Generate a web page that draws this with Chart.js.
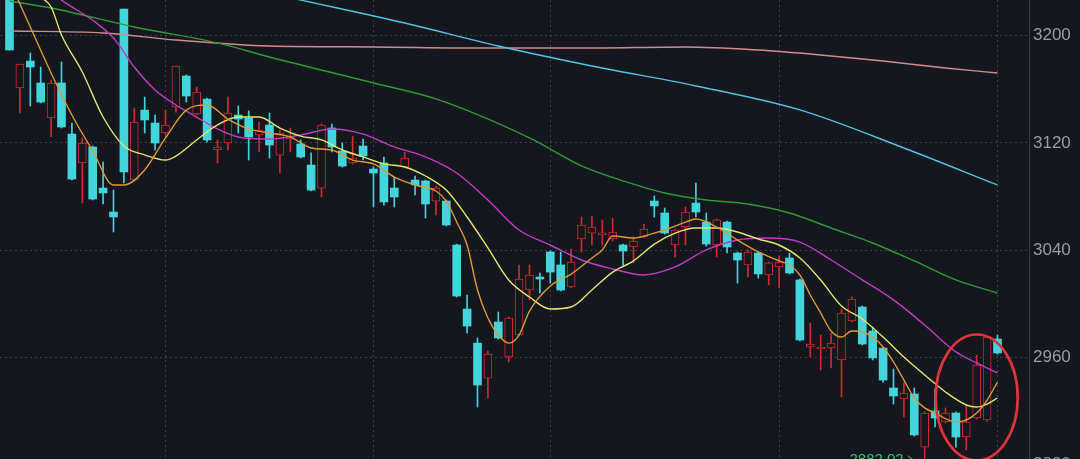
<!DOCTYPE html>
<html>
<head>
<meta charset="utf-8">
<script src="https://cdn.jsdelivr.net/npm/chart.js@4/dist/chart.umd.min.js"></script>
<style>
  html, body { margin: 0; padding: 0; background: #14171d; overflow: hidden; width: 1080px; height: 459px; }
  #wrap { width: 1080px; height: 459px; overflow: hidden; }
  canvas { display: block; }
</style>
</head>
<body>
<div id="wrap"><canvas id="c" width="1080" height="470"></canvas></div>
<script>
// ---- data ----
const opens  = [3230.4,3161.0,3181.1,3164.7,3138.6,3164.7,3126.6,3105.0,3116.9,3086.3,3068.4,3219.9,3092.3,3144.5,3134.8,3127.4,3146.8,3169.9,3141.6,3152.7,3114.7,3119.9,3140.8,3138.6,3125.9,3133.3,3110.9,3122.9,3119.2,3103.5,3086.3,3131.1,3113.9,3105.0,3117.7,3100.5,3105.0,3086.3,3102.0,3092.3,3091.6,3076.6,3076.6,3043.8,2996.0,2970.6,2944.5,2986.3,2960.2,2976.6,3010.2,3019.9,3038.6,3028.9,3012.5,3048.3,3052.7,3051.3,3048.3,3043.8,3042.3,3049.8,3076.6,3067.7,3043.8,3057.2,3075.1,3060.9,3043.8,3060.9,3037.8,3028.9,3037.8,3021.4,3027.4,3034.1,3017.7,2967.7,2966.2,2966.9,2958.0,2987.1,2997.5,2979.6,2966.9,2937.1,2928.9,2932.6,2893.0,2919.9,2911.7,2918.4,2900.5,2914.7,2913.2,2973.6];
const highs  = [3232.0,3178.9,3187.1,3176.6,3166.9,3180.4,3134.8,3123.6,3117.7,3105.7,3084.8,3219.9,3146.0,3154.2,3140.8,3144.5,3177.4,3170.7,3161.7,3153.5,3122.2,3154.2,3147.5,3143.8,3135.6,3142.3,3129.6,3131.1,3122.2,3112.5,3134.1,3134.1,3119.9,3125.1,3122.9,3102.0,3109.5,3094.5,3113.2,3095.3,3092.3,3087.8,3077.4,3044.5,3006.5,2974.4,2964.7,2993.8,2990.1,3028.9,3028.9,3022.9,3039.3,3038.6,3040.8,3064.7,3065.4,3062.5,3063.9,3044.5,3049.8,3059.5,3080.4,3071.4,3055.7,3072.2,3090.1,3067.7,3063.2,3061.7,3038.6,3040.1,3038.6,3031.1,3035.6,3037.8,3018.4,2985.6,2976.6,2978.1,2996.0,3005.0,2998.3,2982.6,2967.7,2951.2,2940.8,2937.1,2919.2,2936.3,2922.2,2919.2,2924.4,2961.7,2975.9,2976.6];
const lows   = [3189.3,3142.3,3147.5,3149.8,3124.4,3131.1,3092.3,3075.1,3077.4,3074.4,3053.5,3090.1,3091.6,3127.4,3114.7,3125.9,3143.0,3150.5,3140.8,3120.7,3105.0,3114.7,3127.4,3107.2,3113.2,3108.7,3097.5,3113.2,3108.7,3084.1,3079.6,3113.2,3102.0,3104.2,3107.2,3072.2,3073.6,3072.2,3101.3,3081.1,3063.9,3066.2,3058.0,3005.0,2978.1,2922.9,2929.6,2973.6,2956.5,2975.9,3002.8,3008.0,3015.4,3009.5,3011.7,3038.6,3043.8,3043.8,3046.8,3027.4,3030.4,3049.0,3064.7,3052.0,3034.8,3043.8,3064.7,3043.0,3034.8,3037.8,3015.4,3019.9,3019.2,3013.9,3011.7,3022.2,2972.2,2960.2,2950.5,2952.0,2930.4,2986.3,2969.2,2958.0,2941.5,2925.1,2915.4,2901.2,2882.02,2908.0,2911.0,2893.0,2890.8,2913.9,2912.4,2962.4];
const closes = [3189.3,3178.9,3176.6,3150.5,3164.7,3131.9,3093.0,3119.9,3078.1,3082.6,3064.7,3098.3,3135.6,3137.1,3119.9,3133.3,3177.4,3155.0,3158.0,3122.2,3116.9,3142.3,3137.8,3124.4,3129.6,3118.4,3127.4,3125.1,3109.5,3084.8,3133.3,3116.9,3102.7,3108.7,3110.2,3097.5,3075.9,3079.6,3108.7,3088.6,3074.4,3086.3,3058.7,3005.7,2983.3,2939.3,2962.4,2974.4,2989.3,3018.4,3021.4,3018.4,3023.6,3010.2,3031.1,3058.7,3057.2,3052.7,3053.5,3039.3,3046.8,3055.7,3072.9,3052.7,3055.0,3068.4,3068.4,3044.5,3062.5,3042.3,3032.6,3038.6,3022.2,3030.4,3031.1,3022.9,2972.9,2969.9,2967.7,2970.6,2993.0,3003.5,2969.9,2959.5,2943.0,2931.1,2933.3,2902.0,2918.4,2914.7,2918.4,2900.5,2911.7,2954.2,2975.1,2963.2];
const dayIndex = opens.map((_, i) => i);

const ma5Idx  = [0,2,4,6,8,10,11,13,15,17,19,21,23,25,27,29,31,33,35,37,39,41,42,43,44,45,46,47,48,49,50,52,54,56,57,58,60,62,63,65,66,68,70,72,74,75,76,77,78,79,80,81,82,83,84,85,86,87,88,89,91,92,93,94,95];
const ma5Val  = [3241,3206.5,3172.2,3140.8,3114,3088.6,3088.6,3099.8,3123.7,3144.5,3148.3,3137.8,3130.4,3127.4,3124.4,3116.2,3114.7,3107.2,3104.3,3094.5,3088.6,3084.1,3076.6,3061,3043.8,3010.2,2989.3,2976.6,2970.6,2976.6,2994.5,3013.2,3022.1,3034.1,3040.1,3050.5,3049,3052.7,3055,3060.9,3063.2,3057.2,3047.5,3038.6,3031.9,3028.9,3021.4,3006.5,2993.1,2979.6,2975.1,2979.6,2978.9,2975.1,2967.7,2956.5,2943.0,2929.6,2922.2,2918.4,2911.7,2913.2,2918.4,2928.1,2941.5];
const ma10Idx = [3,4,5,7,9,11,13,15,16,18,20,22,24,26,28,30,32,34,36,38,40,42,44,46,48,50,52,54,56,58,60,62,64,66,68,70,72,74,76,78,80,82,84,86,88,90,92,93,94,95];
const ma10Val = [3228.9,3221.4,3200.5,3172.9,3139.3,3117.7,3111.0,3107.2,3110.2,3122.2,3133.4,3139.3,3139.3,3131.1,3125.1,3122.2,3114.7,3109.5,3104.3,3102.0,3095.3,3084.8,3064.7,3041.6,3017.7,3005.0,2996.0,2997.5,3010.2,3023.6,3031.9,3044.5,3052.7,3056.5,3056.5,3053.5,3048.3,3043.8,3034.1,3017.7,2998.3,2988.6,2975.1,2960.2,2946.8,2934.1,2924.4,2922.9,2925.1,2929.6];
const ma20Idx = [0,5,10,12,14,16,18,20,22,25,28,31,34,37,40,43,46,49,52,55,58,61,64,67,70,73,76,79,82,85,88,91,93,95];
const ma20Val = [3252.8,3226.6,3198.3,3176.6,3159.5,3148.3,3139.3,3130.4,3124.4,3122.9,3125.9,3130.4,3126.6,3117.0,3109.5,3097.5,3077.4,3055.0,3043.8,3032.6,3025.9,3021.4,3027.4,3040.1,3047.5,3049.0,3046.0,3032.6,3017.8,3002.8,2984.1,2964.0,2955.8,2948.3];
const ma60Idx = [0,4,12,20,25,35,41,50,55,59,63,67,71,75,79,83,87,91,95];
const ma60Val = [3225.9,3220.7,3206.5,3194.6,3184.1,3164.7,3152.8,3123.7,3102.8,3091.6,3082.6,3077.4,3074.4,3067.7,3056.5,3045.3,3031.9,3017.8,3008.0];
const ma120Idx = [20,28,38,47,56,66,76,86,95];
const ma120Val = [3240.0,3226.6,3209.5,3192.3,3177.4,3162.5,3144.6,3116.2,3088.6];
const ma250Idx = [0,9,16,25,35,45,55,65,72,78,84,90,95];
const ma250Val = [3203.5,3202.0,3196.8,3192.3,3191.6,3190.8,3190.8,3191.6,3189.3,3185.6,3181.1,3175.9,3172.2];

const priceTicks = [2880, 2960, 3040, 3120, 3200];
const monthStartIdx = [15, 35, 52, 74, 95];
const circleCenter = [93, 2930];

// ---- styles ----
const BG = '#14171d';
const CYAN = '#44d4dc';
const RED = '#cf2b2f';
const GRID = 'rgba(95,100,112,0.55)';

const isUp = dayIndex.map(i => closes[i] >= opens[i]);
const candleColor = dayIndex.map(i => isUp[i] ? RED : CYAN);

function lineDs(idx, val, color, order) {
  return {
    type: 'line',
    data: idx.map((d, k) => ({ x: d, y: val[k] })),
    borderColor: color,
    borderWidth: 1.4,
    pointRadius: 0,
    tension: 0.4,
    cubicInterpolationMode: 'monotone',
    fill: false,
    order: order
  };
}

const annot = {
  id: 'annot',
  afterDraw(chart) {
    const { ctx, scales: { x, y } } = chart;
    let li = 0;
    lows.forEach((v, i) => { if (v < lows[li]) li = i; });
    const px = x.getPixelForValue(li), py = y.getPixelForValue(lows[li]);
    ctx.save();
    ctx.font = '15px "Liberation Sans", Arial, sans-serif';
    ctx.fillStyle = '#33c36c';
    ctx.textAlign = 'right';
    ctx.textBaseline = 'top';
    ctx.fillText(lows[li].toFixed(2), px - 21, py - 9);
    ctx.strokeStyle = '#9aa0a8';
    ctx.lineWidth = 1;
    ctx.beginPath();
    ctx.moveTo(px - 17, py - 6);
    ctx.lineTo(px - 10, py - 1);
    ctx.stroke();
    const cx = x.getPixelForValue(circleCenter[0]);
    const cy = y.getPixelForValue(circleCenter[1]);
    ctx.strokeStyle = '#e2343a';
    ctx.lineWidth = 2.6;
    ctx.beginPath();
    ctx.ellipse(cx, cy, 41, 63, 0, 0, Math.PI * 2);
    ctx.stroke();
    ctx.restore();
  }
};

new Chart(document.getElementById('c'), {
  data: {
    datasets: [
      {
        type: 'bar',
        data: dayIndex.map(i => ({ x: i, y: [lows[i], highs[i]] })),
        backgroundColor: candleColor,
        barThickness: 1,
        grouped: false,
        minBarLength: 1,
        order: 10
      },
      {
        type: 'bar',
        data: dayIndex.map(i => ({ x: i, y: [opens[i], closes[i]] })),
        backgroundColor: dayIndex.map(i => isUp[i] ? BG : CYAN),
        borderColor: candleColor,
        borderWidth: dayIndex.map(i => isUp[i] ? 1 : 0),
        borderSkipped: false,
        barThickness: 8,
        grouped: false,
        minBarLength: 2,
        order: 9
      },
      lineDs(ma250Idx, ma250Val, '#d08c8c', 6),
      lineDs(ma120Idx, ma120Val, '#52c3e4', 5),
      lineDs(ma60Idx, ma60Val, '#2f9a35', 4),
      lineDs(ma20Idx, ma20Val, '#c23ac8', 3),
      lineDs(ma10Idx, ma10Val, '#e6e46c', 2),
      lineDs(ma5Idx, ma5Val, '#dc9a34', 1)
    ]
  },
  options: {
    responsive: false,
    animation: false,
    layout: { padding: 0 },
    plugins: { legend: { display: false }, tooltip: { enabled: false } },
    scales: {
      x: {
        type: 'linear',
        min: -0.913,
        max: 98.03,
        offset: false,
        bounds: 'data',
        position: 'bottom',
        ticks: { display: false },
        border: { display: false, dash: [2, 3] },
        grid: { color: GRID, drawTicks: false, lineWidth: 1, offset: false },
        afterBuildTicks: s => { s.ticks = monthStartIdx.map(v => ({ value: v })); },
        afterFit: s => { s.height = 0; s.paddingLeft = 0; s.paddingRight = 0; }
      },
      y: {
        position: 'right',
        min: 3226.64 - 470 * 0.7463,
        max: 3226.64,
        ticks: {
          color: '#999ea6',
          font: { family: '"Liberation Sans", Arial, sans-serif', size: 17 },
          padding: 4,
          callback: v => String(v)
        },
        grid: { color: GRID, drawTicks: false, lineWidth: 1 },
        border: { display: true, color: '#3a3e47', width: 1, dash: [2, 3] },
        afterBuildTicks: s => { s.ticks = priceTicks.map(v => ({ value: v })); },
        afterFit: s => { s.width = 51; s.paddingTop = 0; s.paddingBottom = 0; }
      }
    }
  },
  plugins: [annot]
});
</script>
</body>
</html>
